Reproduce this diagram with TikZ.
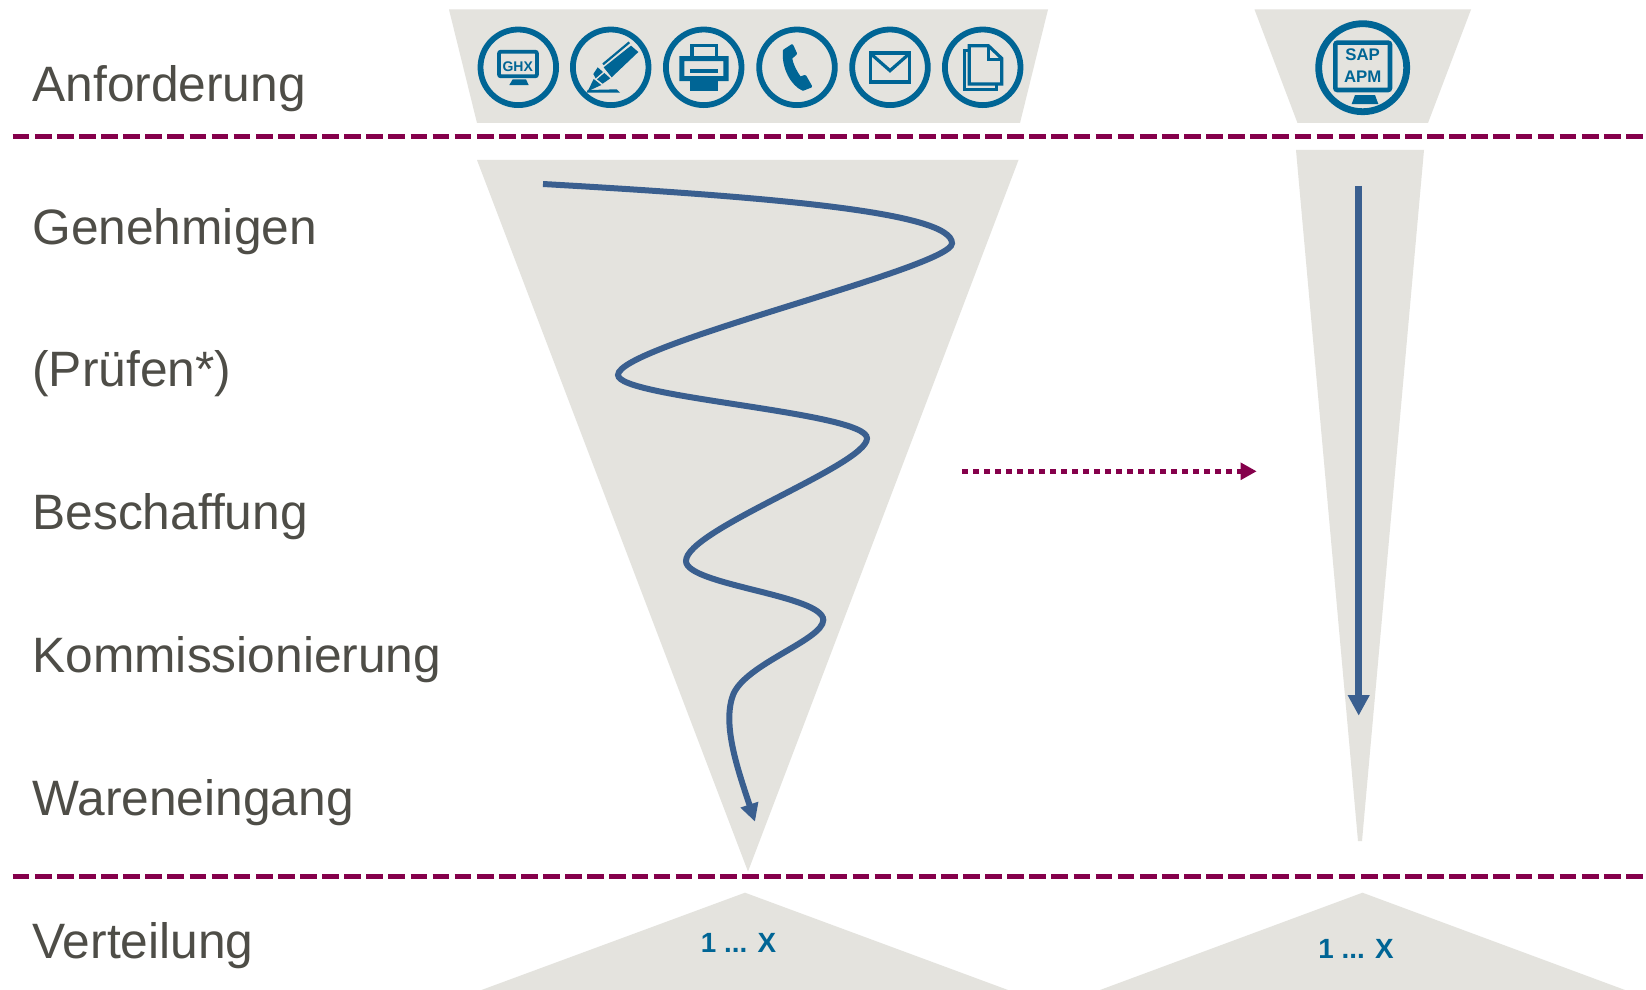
\documentclass[tikz,border=0pt]{standalone}
\usepackage{fontspec}
\setmainfont{Liberation Sans}
\usetikzlibrary{arrows.meta}
\definecolor{funnel}{HTML}{E4E3DE}
\definecolor{iconblue}{HTML}{006595}
\definecolor{flowblue}{HTML}{3A5F8F}
\definecolor{maroon}{HTML}{85004B}
\definecolor{labelgrey}{HTML}{4E4D47}
\tikzset{
  funnelshape/.style={fill=funnel,draw=none},
  stagelabel/.style={anchor=base west,inner sep=0pt,text=labelgrey,font=\fontsize{24.85}{28}\selectfont},
  separator/.style={draw=maroon,line width=2.75pt,dash pattern=on 8.35pt off 2.7pt},
  flow/.style={draw=flowblue,line width=3pt},
  ring/.style={circle,draw=iconblue,line width=2.9pt,inner sep=0pt,minimum size=37.8pt},
  bigring/.style={circle,draw=iconblue,line width=3.4pt,inner sep=0pt,minimum size=44pt},
  countlabel/.style={inner sep=0pt,anchor=base,text=iconblue,font=\fontsize{13.9}{16}\selectfont\bfseries},
  icontext/.style={inner sep=0pt,anchor=base,text=iconblue,font=\fontsize{7}{8}\selectfont\bfseries},
  saptext/.style={inner sep=0pt,anchor=base,text=iconblue,font=\fontsize{8.4}{10}\selectfont\bfseries},
  iconfill/.style={fill=iconblue,draw=none},
  iconline/.style={draw=iconblue,line width=1.6pt,line join=miter},
  zoomgrid/.style={x=0.16667pt,y=-0.16667pt},
}
\begin{document}
\begin{tikzpicture}[x=0.5pt,y=-0.5pt]
\useasboundingbox (0,0) rectangle (1646,990);
\fill[white] (0,0) rectangle (1646,990);
% funnels
\path[funnelshape] (449,9.5) -- (1048,9.5) -- (1020,123) -- (477,123) -- cycle;
\path[funnelshape] (1254.5,9.5) -- (1471,9.5) -- (1428,123) -- (1297.5,123) -- cycle;
\path[funnelshape] (477,160) -- (1018.5,160) -- (748,871.5) -- cycle;
\path[funnelshape] (1296,150) -- (1424,150) -- (1362,841) -- (1358,841) -- cycle;
\path[funnelshape] (745,892.7) -- (1008,990) -- (481.5,990) -- cycle;
\path[funnelshape] (1362.5,892.7) -- (1625,990) -- (1100,990) -- cycle;
% separators
\coordinate (sepAl) at (12.7,136.7);
\coordinate (sepAr) at (1644,136.7);
\coordinate (sepBl) at (12.7,876.3);
\coordinate (sepBr) at (1644,876.3);
\draw[separator] (sepAl) -- (sepAr);
\draw[separator] (sepBl) -- (sepBr);
% labels
\node[stagelabel] (l1) at (32,101.4) {Anforderung};
\node[stagelabel] (l2) at (32,244.2) {Genehmigen};
\node[stagelabel] (l3) at (32,386.6) {(Prüfen*)};
\node[stagelabel] (l4) at (32,529) {Beschaffung};
\node[stagelabel] (l5) at (32,672) {Kommissionierung};
\node[stagelabel] (l6) at (32,815) {Wareneingang};
\node[stagelabel] (l7) at (32,958) {Verteilung};
\node[countlabel] (c1) at (738.5,952.3) {1 ... X};
\node[countlabel] (c2) at (1356,958.3) {1 ... X};
% flows
\coordinate (f0) at (543,184);
\coordinate (f1) at (952,243.3);
\coordinate (f2) at (618,375);
\coordinate (f3) at (867,438.3);
\coordinate (f4) at (686,561);
\coordinate (f5) at (823.3,620);
\coordinate (f6) at (733,695);
\coordinate (f7) at (755,821.7);
\draw[flow,-{Triangle[length=9pt,width=8.8pt]}] (f0)
  .. controls (770,197) and (952,212) .. (f1)
  .. controls (952,268) and (618,345) .. (f2)
  .. controls (618,398) and (867,412) .. (f3)
  .. controls (867,465) and (686,530) .. (f4)
  .. controls (686,585) and (823,595) .. (f5)
  .. controls (823,640) and (745,664) .. (f6)
  .. controls (722,725) and (738,770) .. (f7);
\coordinate (s0) at (1358.7,186);
\coordinate (s1) at (1358.7,715.7);
\draw[draw=flowblue,line width=3.5pt,-{Triangle[length=10.3pt,width=10.3pt]}] (s0) -- (s1);
\coordinate (d0) at (962.3,471.3);
\coordinate (d1) at (1256.7,471.3);
\draw[draw=maroon,line width=2.75pt,dash pattern=on 2.75pt off 2.75pt,-{Triangle[length=8pt,width=8.2pt]}] (d0) -- (d1);
% rings
\node[ring] (ghx) at (518.3,67.3) {};
\node[ring] (pen) at (610.7,67.3) {};
\node[ring] (printer) at (703.7,67.3) {};
\node[ring] (phone) at (797,67.3) {};
\node[ring] (mail) at (890,67.3) {};
\node[ring] (docs) at (982.7,67.3) {};
\node[bigring] (sap) at (1362.7,67.7) {};
% GHX monitor and printer (crop 1 grid)
\begin{scope}[shift={(440,0)},zoomgrid]
  \draw[draw=iconblue,line width=1.9pt,rounded corners=1pt] (177,155) rectangle (291,229);
  \path[iconfill] (218,238) -- (258,238) -- (266,255) -- (208,255) -- cycle;
  \node[icontext] (ghxtext) at (233,213) {GHX};
  \draw[iconline] (756,168) -- (756,137) -- (829,137) -- (829,168);
  \path[iconfill,even odd rule] (718,168) rectangle (866,243) (733,183) rectangle (850,228);
  \path[iconfill] (750,206) rectangle (833,220);
  \path[iconfill] (750,228) rectangle (833,272);
\end{scope}
% pen (crop 10 grid)
\begin{scope}[shift={(575,30)},zoomgrid]
  \path[iconfill] (168,47) -- (190,66) -- (110,142) -- (86,112) -- cycle;
  \draw[iconline,line width=1.1pt] (84,103) -- (163,37);
  \path[iconfill] (68,112) -- (84,126) -- (62,145) -- (55,132) -- cycle;
  \path[iconfill] (88,129) -- (106,145) -- (83,161) -- (66,148) -- cycle;
  \path[iconfill] (56,147) -- (79,165) -- (38,184) -- cycle;
  \path[iconfill] (38,180) -- (125,178) -- (135,188) -- (35,188) -- cycle;
\end{scope}
% phone (crop 11 grid)
\begin{scope}[shift={(760,30)},zoomgrid]
  \filldraw[fill=iconblue,draw=iconblue,line width=1.4pt,line join=round] (73,62) -- (96,47) -- (107,71) -- (92,84)
     .. controls (96,105) and (106,125) .. (120,144)
     -- (135,139) -- (152,169) -- (129,178)
     .. controls (98,165) and (68,115) .. (73,62) -- cycle;
\end{scope}
% mail and documents (crop 2 grid)
\begin{scope}[shift={(740,0)},zoomgrid]
  \draw[iconline] (392,159) rectangle (508,246);
  \draw[iconline] (392,161) -- (450,212) -- (508,161);
  \draw[iconline] (688,137) -- (745,137) -- (785,175) -- (785,252) -- (688,252) -- cycle;
  \draw[iconline] (745,137) -- (745,178) -- (785,178);
  \draw[iconline] (688,152) -- (673,152) -- (673,268) -- (770,268) -- (770,252);
\end{scope}
% SAP monitor (crop 3 grid)
\begin{scope}[shift={(1240,0)},zoomgrid]
  \draw[draw=iconblue,line width=2.3pt,rounded corners=1pt] (286,128) rectangle (450,270);
  \path[iconfill] (345,285) -- (405,285) -- (415,312) -- (335,312) -- cycle;
  \node[saptext] (saptop) at (368,183) {SAP};
  \node[saptext] (sapbottom) at (368,247) {APM};
\end{scope}
\end{tikzpicture}
\end{document}
